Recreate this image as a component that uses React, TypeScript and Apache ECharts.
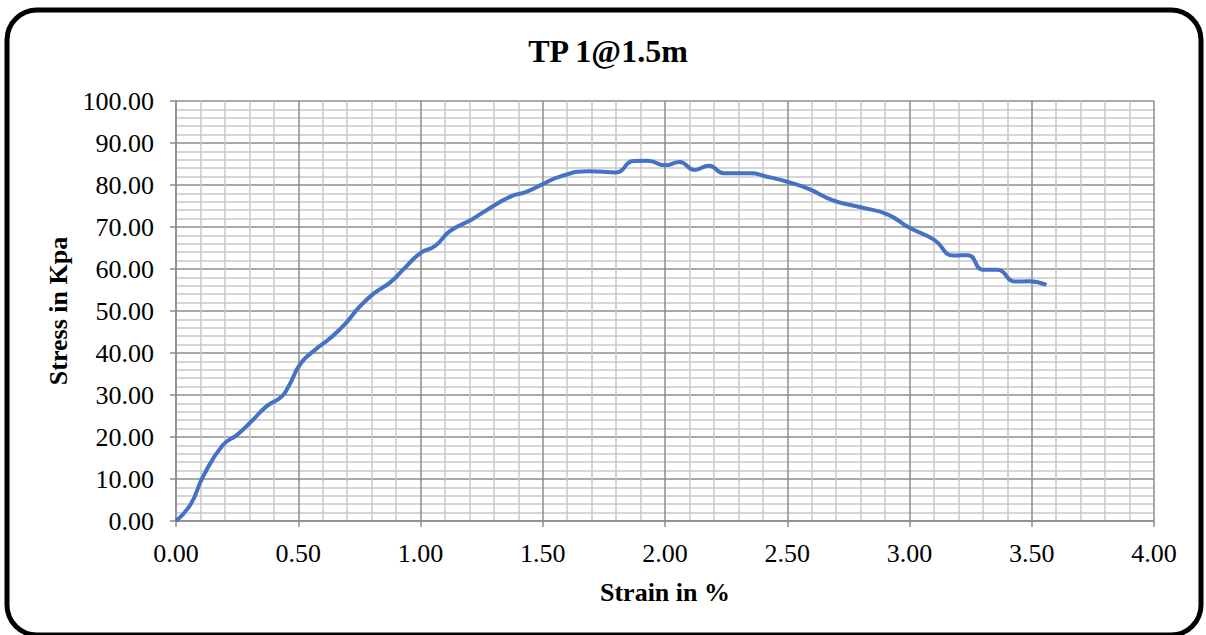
import React, { useEffect, useRef } from "react";
import * as echarts from "echarts";

const chartTitle = "TP 1@1.5m";
const xAxisTitle = "Strain in %";
const yAxisTitle = "Stress in Kpa";

const strain = [
  0, 0.06, 0.11, 0.19, 0.25, 0.31, 0.37, 0.43, 0.46, 0.51, 0.57, 0.63, 0.69, 0.75,
  0.81, 0.88, 0.94, 1.0, 1.06, 1.12, 1.21, 1.27, 1.37, 1.43, 1.5, 1.57, 1.69, 1.8,
  1.87, 1.93, 2.0, 2.06, 2.12, 2.18, 2.24, 2.35, 2.41, 2.51, 2.59, 2.69, 2.8, 2.91,
  3.0, 3.1, 3.18, 3.24, 3.3, 3.36, 3.43, 3.49, 3.56,
];
const stress = [
  0, 4, 10.5, 18, 20.5, 23.8, 27.3, 29.5, 32, 37.5, 40.8, 43.5, 46.8, 51,
  54.2, 57, 60.5, 63.8, 65.5, 69, 71.8, 74, 77.3, 78.3, 80.2, 82, 83.3, 83,
  85.7, 85.8, 84.7, 85.5, 83.6, 84.6, 82.8, 82.8, 82.1, 80.6, 79, 76.3, 74.7, 73,
  69.8, 67, 63.2, 63.3, 59.8, 59.8, 57, 57.1, 56.2,
];

const FONT = "'Liberation Serif', 'Times New Roman', serif";

export default function App() {
  const ref = useRef<HTMLDivElement>(null);
  useEffect(() => {
    if (!ref.current) return;
    const chart = echarts.init(ref.current, null, { renderer: "svg" });
    const data = strain.map((s, i) => [s, stress[i]]);
    chart.setOption({
      animation: false,
      backgroundColor: "#ffffff",
      graphic: [
        {
          type: "rect",
          shape: { x: 7, y: 10, width: 1194, height: 625, r: 30 },
          style: { fill: "none", stroke: "#000", lineWidth: 5 },
          z: 100,
        },
        {
          type: "text",
          x: 608,
          y: 51,
          style: {
            text: chartTitle,
            font: `bold 32px ${FONT}`,
            fill: "#000",
            align: "center",
            verticalAlign: "middle",
          },
        },
      ],
      grid: { left: 176, right: 52, top: 101, bottom: 114, containLabel: false },
      xAxis: {
        type: "value",
        min: 0,
        max: 4,
        interval: 0.5,
        name: xAxisTitle,
        nameLocation: "middle",
        nameGap: 58,
        nameTextStyle: { fontFamily: FONT, fontSize: 26, fontWeight: "bold", color: "#000" },
        axisLine: { show: true, onZero: false, lineStyle: { color: "#8c8c8c", width: 1.5 } },
        axisTick: { show: true, length: 6, lineStyle: { color: "#8c8c8c", width: 1.5 } },
        axisLabel: {
          fontFamily: FONT,
          fontSize: 26,
          color: "#000",
          margin: 19,
          formatter: (v: number) => v.toFixed(2),
        },
        splitLine: { show: true, lineStyle: { color: "#8c8c8c", width: 1.5 } },
        minorTick: { show: false, splitNumber: 5 },
        minorSplitLine: { show: true, lineStyle: { color: "#c8c8c8", width: 1.5 } },
      },
      yAxis: {
        type: "value",
        min: 0,
        max: 100,
        interval: 10,
        name: yAxisTitle,
        nameLocation: "middle",
        nameGap: 101,
        nameRotate: 90,
        nameTextStyle: { fontFamily: FONT, fontSize: 26, fontWeight: "bold", color: "#000" },
        axisLine: { show: true, lineStyle: { color: "#8c8c8c", width: 1.5 } },
        axisTick: { show: true, length: 6, lineStyle: { color: "#8c8c8c", width: 1.5 } },
        axisLabel: {
          fontFamily: FONT,
          fontSize: 26,
          color: "#000",
          margin: 22,
          formatter: (v: number) => v.toFixed(2),
        },
        splitLine: { show: true, lineStyle: { color: "#8c8c8c", width: 1.5 } },
        minorTick: { show: false, splitNumber: 5 },
        minorSplitLine: { show: true, lineStyle: { color: "#c8c8c8", width: 1.5 } },
      },
      series: [
        {
          type: "line",
          data,
          smooth: 0.5,
          symbol: "none",
          lineStyle: { color: "#4472C4", width: 4 },
          z: 10,
        },
      ],
    });
    return () => chart.dispose();
  }, []);
  return (
    <div
      ref={ref}
      style={{ position: "fixed", left: 0, top: 0, width: 1206, height: 635 }}
    />
  );
}
